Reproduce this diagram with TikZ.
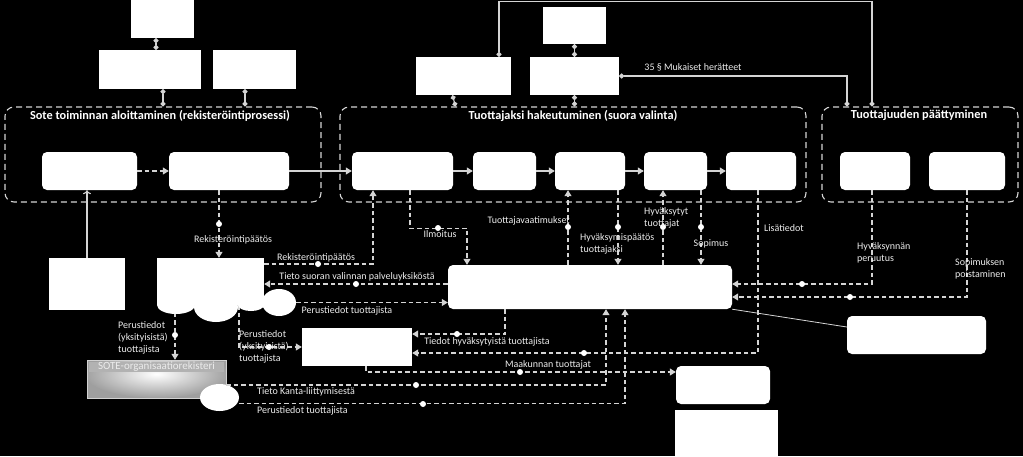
\documentclass[tikz,border=0pt]{standalone}
\usepackage{fontspec}
\setmainfont{Carlito}
\usepackage{tikz}
\usetikzlibrary{arrows.meta,positioning,calc,shapes.geometric}
\definecolor{lc}{HTML}{D4D4D4}
\definecolor{tc}{HTML}{EDEDED}

\begin{document}
\begin{tikzpicture}[x=1pt,y=-1pt,>={Triangle[width=7pt,length=6pt]},
   font=\fontsize{10}{12}\selectfont,
   bx/.style={fill=white,inner sep=0pt,minimum width=#1,minimum height=38pt},
   rb/.style={bx=#1,rounded corners=5pt},
   grp/.style={draw=lc,line width=1.1pt,dash pattern=on 6pt off 4pt,rounded corners=9pt,
     minimum width=#1,minimum height=95pt,inner sep=0pt},
   ell/.style={ellipse,fill=white,inner sep=0pt,minimum width=#1,minimum height=27pt},
   sote/.style={minimum width=139pt,minimum height=38pt,inner sep=0pt,draw=gray!35,fill=gray!75,
     path picture={
       \shade[inner color=white,outer color=gray!75] ([yshift=-14pt]path picture bounding box.north) ellipse [x radius=72pt,y radius=24pt];
       \fill[gray!60] ([shift={(2pt,-2pt)}]path picture bounding box.north west) rectangle ([shift={(-2pt,-12pt)}]path picture bounding box.north east);}},
   dl/.style={draw=lc,line width=1.1pt,dash pattern=on 4.5pt off 3pt},
   sl/.style={draw=lc,line width=1.1pt},
   dd/.style={{Circle[length=5pt]}-{Circle[length=5pt]}},
   lbl/.style={text=tc,inner sep=0pt,align=left},
   ttl/.style={text=white,font=\bfseries\fontsize{12.3}{14}\selectfont}]
  \fill[black] (0,0) rectangle (1023,456);
  \useasboundingbox (0,0) rectangle (1023,456);
  \coordinate (top) at (0,1.5);

  % phases
  \node[grp=316pt] (g1) at (163,154.5) {};
  \node[grp=466pt] (g2) at (573,154.5) {};
  \node[grp=196pt] (g3) at (920,154.5) {};
  \node[ttl] (t1) at (160,115.5) {Sote toiminnan aloittaminen (rekisteröintiprosessi)};
  \node[ttl] (t2) at (573,115.5) {Tuottajaksi hakeutuminen (suora valinta)};
  \node[ttl] (t3) at (919,115.5) {Tuottajuuden päättyminen};
  \coordinate (g3a) at ([xshift=-48pt]g3.north);
  \coordinate (g3b) at ([xshift=-73pt]g3.north);

  % top boxes
  \node[bx=63pt] (a1) at (162.5,19) {};
  \node[bx=102pt,minimum height=39pt] (a2) at (150,69.5) {};
  \node[bx=83pt,minimum height=39pt] (a3) at (254.5,69.5) {};
  \node[bx=95pt] (d1) at (463.5,76) {};
  \node[bx=89pt] (d2) at (574.5,76) {};
  \node[bx=63pt,minimum height=37pt] (d3) at (574.5,25.5) {};

  % steps
  \node[rb=95pt] (b1) at (89.5,171) {};
  \node[rb=120pt] (b2) at (229,171) {};
  \node[rb=101pt] (c1) at (402.5,171) {};
  \node[rb=63pt] (c2) at (504.5,171) {};
  \node[rb=70pt] (c3) at (590,171) {};
  \node[rb=63pt] (c4) at (675.5,171) {};
  \node[rb=70pt] (c5) at (761,171) {};
  \node[rb=70pt] (e1) at (875,171) {};
  \node[rb=76pt] (e2) at (967,171) {};

  % lower part
  \node[bx=76pt,minimum height=52pt] (f1) at (87,284) {};
  \node[bx=107pt,minimum height=47pt] (rg) at (210.5,281.5) {};
  \node[ell=34pt] (rge) at (279,302.5) {};
  \node[rb=284pt,minimum height=44pt] (h) at (590,287) {};
  \node[bx=110pt] (i) at (357,347) {};
  \node[rb=94pt] (j) at (723,385) {};
  \node[bx=103pt,minimum height=46pt] (k) at (726.5,433) {};
  \node[rb=139pt] (m) at (916.5,335) {};
  \node[sote] (so) at (156.5,379) {};
  \node[text=gray!15,font=\fontsize{11}{12}\selectfont] (sot) at ([yshift=-7pt]so.north) {SOTE-organisaatiorekisteri};
  \node[ell=39pt] (el) at (219.5,397.5) {};

  % solid links
  \draw[sl,dd] ([xshift=-6.5pt]a1.south) -- ([xshift=-6.5pt]a1.south |- a2.north);
  \draw[sl,dd] ([xshift=13pt]a2.south) -- ([xshift=13pt]a2.south |- g1.north);
  \draw[sl,dd] ([xshift=-9.5pt]a3.south) -- ([xshift=-9.5pt]a3.south |- g1.north);
  \draw[sl,dd] (d3) -- (d2);
  \draw[sl,dd] (d2.south) -- (d2.south |- g2.north);
  \draw[sl,dd] ([xshift=-11pt]d1.south) -- ([xshift=-8pt]d1.south |- g2.north);
  \draw[sl,dd] ([xshift=35.5pt]d1.north) |- (g3a |- top) -- (g3a);
  \draw[sl,dd] (d2.east) -| (g3b);
  \node[lbl] (l0) at (693,67) {35 § Mukaiset herätteet};
  \draw[dl,->] (b1) -- (b2);
  \draw[sl,->] (b2) -- (c1);
  \foreach \u/\v in {c1/c2,c2/c3,c3/c4,c4/c5} \draw[sl,->] (\u) -- (\v);
  \draw[sl,-{To[length=4pt,width=8pt]}] (f1.north) -- (f1.north |- b1.south);
  \draw[sl,line width=.8pt] (h.south east) -- ([yshift=8pt]m.west);

  % dashed links
  \draw[dl,->] ([xshift=-10pt]b2.south) -- ([xshift=-10pt]b2.south |- rg.north);
  \draw[dl,->] ([yshift=17.5pt]rg.east) -| ([xshift=-29.5pt]c1.south);
  \draw[dl,->] ([yshift=3pt]h.west) -- ([yshift=3pt]h.west -| rg.east);
  \draw[dl,->] (rge.east) -- (rge.east -| h.west);
  \draw[dl,->] ([xshift=7.5pt]c1.south) -- ++(0,38) -| ([xshift=-123pt]h.north);
  \draw[dl,->] ([xshift=-22pt]h.north) -- ([xshift=-22pt]c3.south);
  \draw[dl,->] ([xshift=28pt]c3.south) -- ([xshift=28pt]c3.south |- h.north);
  \draw[dl,->] ([xshift=73pt]h.north) -- ([xshift=73pt]h.north |- c4.south);
  \draw[dl,->] ([xshift=25.5pt]c4.south) -- ([xshift=25.5pt]c4.south |- h.north);
  \draw[dl,->] ([xshift=-3pt]c5.south) |- ([yshift=-6pt]i.east);
  \draw[dl,->] ([xshift=-85pt]h.south) |- ([yshift=13pt]i.east);
  \draw[dl,->] ([xshift=9pt]i.south) |- ([yshift=13pt]j.west);
  \draw[dl,->] ([yshift=-6pt]so.east) -| ([xshift=16pt]h.south);
  \draw[dl,->] ([yshift=-6pt]el.east) -| ([xshift=35pt]h.south);
  \draw[dl,->] ([xshift=-35.5pt]rg.south) -- ([xshift=-35.5pt]rg.south |- so.north);
  \draw[dl,->] ([xshift=28.5pt]rg.south) |- (i.west);
  \draw[dl,->] ([xshift=-3pt]e1.south) |- ([yshift=3pt]h.east);
  \draw[dl,->] (e2.south) |- ([yshift=-10pt]h.east);
  \foreach \p in {(219,224),(318,264),(356,284),(438,228),(568,227),(618,227),(663,227),
    (701,227),(584,353),(457,334),(520,372),(416,385),(423,404),(175,335),(269,347),
    (802,284),(850,297)} \fill[white] \p circle (3pt);

  % labels
  \node[lbl] (l1) at (233,240) {Rekisteröintipäätös};
  \node[lbl] (l2) at (316,258) {Rekisteröintipäätös};
  \node[lbl] (l3) at (357,277) {Tieto suoran valinnan palveluyksiköstä};
  \node[lbl] (l4) at (347,311) {Perustiedot tuottajista};
  \node[lbl] (l5) at (440,234) {Ilmoitus};
  \node[lbl,anchor=east] (l6) at (570,221) {Tuottajavaatimukset};
  \node[lbl,anchor=west] (l7) at (580,244) {Hyväksymispäätös\\tuottajaksi};
  \node[lbl,anchor=west] (l8) at (644,218) {Hyväksytyt\\tuottajat};
  \node[lbl] (l9) at (711,244) {Sopimus};
  \node[lbl,anchor=west] (l10) at (764,228) {Lisätiedot};
  \node[lbl] (l11) at (487,342) {Tiedot hyväksytyistä tuottajista};
  \node[lbl] (l12) at (548,365) {Maakunnan tuottajat};
  \node[lbl,anchor=west] (l13) at (257,392) {Tieto Kanta-liittymisestä};
  \node[lbl,anchor=west] (l14) at (257,411) {Perustiedot tuottajista};
  \node[lbl,anchor=west] (l15) at (118,338) {Perustiedot\\(yksityisistä)\\tuottajista};
  \node[lbl,anchor=west] (l16) at (239,347) {Perustiedot\\(yksityisistä)\\tuottajista};
  \node[lbl,anchor=west] (l17) at (857,253) {Hyväksynnän\\peruutus};
  \node[lbl,anchor=west] (l18) at (955,269) {Sopimuksen\\poistaminen};

  % cloud bottom
  \fill[white] (176,305) ellipse [x radius=19pt,y radius=9pt];
  \fill[white] (216,307) ellipse [x radius=22pt,y radius=15pt];
  \fill[white] (251,305) ellipse [x radius=13pt,y radius=6pt];
\end{tikzpicture}
\end{document}
